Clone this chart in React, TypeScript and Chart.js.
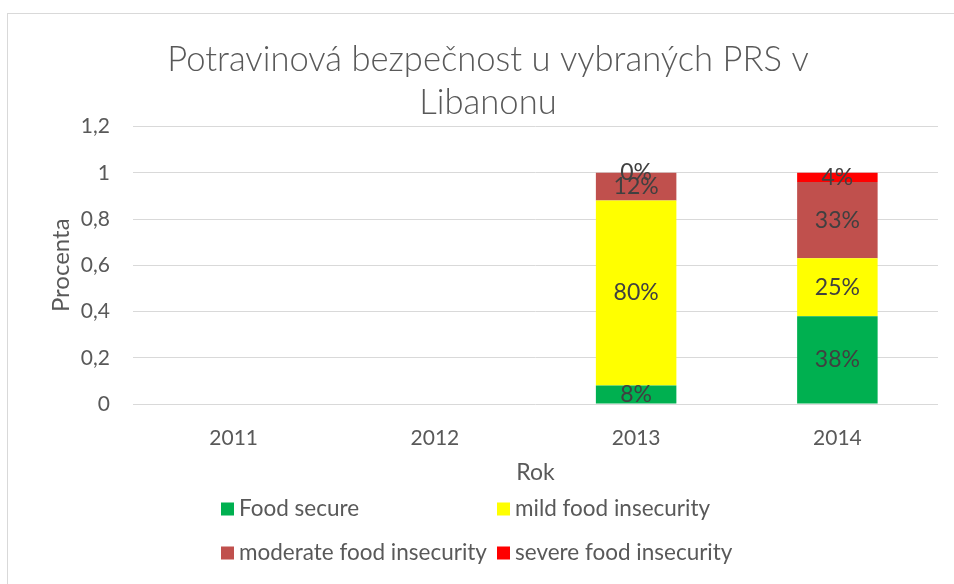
import React, { useEffect, useRef } from "react";
import { Chart, registerables } from "chart.js";

Chart.register(...registerables);

const FONT = "Lato, 'Open Sans', sans-serif";

const categories = ["2011", "2012", "2013", "2014"];
const foodSecure = [null, null, 0.08, 0.38];
const mildInsecurity = [null, null, 0.8, 0.25];
const moderateInsecurity = [null, null, 0.12, 0.33];
const severeInsecurity = [null, null, 0, 0.04];
const seriesNames = [
  "Food secure",
  "mild food insecurity",
  "moderate food insecurity",
  "severe food insecurity",
];
const seriesColors = ["#00B050", "#FFFF00", "#C0504D", "#FF0000"];
const titleLines = ["Potravinová bezpečnost u vybraných PRS v", "Libanonu"];
const yAxisTitle = "Procenta";
const xAxisTitle = "Rok";

const framePlugin = {
  id: "frame",
  beforeDraw(chart: any) {
    const ctx = chart.ctx;
    ctx.save();
    ctx.fillStyle = "#ffffff";
    ctx.fillRect(0, 0, chart.width, chart.height);
    ctx.strokeStyle = "#d9d9d9";
    ctx.lineWidth = 1;
    ctx.strokeRect(7.5, 13.5, 2000, 2000);
    ctx.restore();
  },
};

const dataLabelPlugin = {
  id: "dataLabels",
  afterDatasetsDraw(chart: any) {
    const ctx = chart.ctx;
    ctx.save();
    ctx.font = `23px ${FONT}`;
    ctx.fillStyle = "#404040";
    ctx.textAlign = "center";
    ctx.textBaseline = "middle";
    chart.data.datasets.forEach((ds: any, i: number) => {
      const meta = chart.getDatasetMeta(i);
      meta.data.forEach((bar: any, j: number) => {
        const v = ds.data[j];
        if (v === null || v === undefined) return;
        const { x, y, base } = bar.getProps(["x", "y", "base"], true);
        ctx.fillText(Math.round(v * 100) + "%", x, (y + base) / 2);
      });
    });
    ctx.restore();
  },
};

const legendPlugin = {
  id: "gridLegend",
  afterDraw(chart: any) {
    const ctx = chart.ctx;
    const cols = [221, 497];
    const rows = [509, 553];
    const box = 13;
    ctx.save();
    ctx.font = `22.5px ${FONT}`;
    ctx.textAlign = "left";
    ctx.textBaseline = "middle";
    chart.data.datasets.forEach((ds: any, i: number) => {
      const x = cols[i % 2];
      const y = rows[Math.floor(i / 2)];
      ctx.fillStyle = ds.backgroundColor;
      ctx.fillRect(x, y - box / 2, box, box);
      ctx.fillStyle = "#595959";
      ctx.fillText(ds.label, x + box + 5, y);
    });
    ctx.restore();
  },
};

export default function App() {
  const ref = useRef<HTMLCanvasElement | null>(null);

  useEffect(() => {
    if (!ref.current) return;
    const seriesData = [foodSecure, mildInsecurity, moderateInsecurity, severeInsecurity];
    const chart = new Chart(ref.current, {
      type: "bar",
      data: {
        labels: categories,
        datasets: seriesData.map((d, i) => ({
          label: seriesNames[i],
          data: d,
          backgroundColor: seriesColors[i],
          borderWidth: 0,
          barPercentage: 0.4,
          categoryPercentage: 1,
        })),
      },
      options: {
        animation: false,
        responsive: false,
        maintainAspectRatio: false,
        layout: { padding: { left: 38, right: 16, top: 0, bottom: 90 } },
        plugins: {
          legend: { display: false },
          tooltip: { enabled: false },
          title: {
            display: true,
            text: titleLines,
            color: "#595959",
            font: { family: FONT, size: 34.6, weight: "300", lineHeight: 1.25 },
            padding: { top: 38, bottom: 2 },
          },
        },
        scales: {
          x: {
            stacked: true,
            grid: { display: false },
            border: { display: false },
            ticks: { color: "#595959", font: { family: FONT, size: 21 }, padding: 14 },
            title: {
              display: true,
              text: xAxisTitle,
              color: "#595959",
              font: { family: FONT, size: 23 },
              padding: { top: 0, bottom: 8 },
            },
            afterFit(scale: any) {
              scale.height = 90;
            },
          },
          y: {
            stacked: true,
            min: 0,
            max: 1.2,
            grid: { color: "#d9d9d9", lineWidth: 1, drawTicks: false },
            border: { display: false },
            ticks: {
              stepSize: 0.2,
              color: "#595959",
              font: { family: FONT, size: 21 },
              padding: 23,
              callback: (v: any) => String(Math.round(Number(v) * 10) / 10).replace(".", ","),
            },
            title: {
              display: true,
              text: yAxisTitle,
              color: "#595959",
              font: { family: FONT, size: 24 },
              padding: { top: 8.5, bottom: 0 },
            },
            afterFit(scale: any) {
              scale.width = 95;
            },
          },
        },
      },
      plugins: [framePlugin, dataLabelPlugin, legendPlugin],
    });
    return () => chart.destroy();
  }, []);

  return (
    <div style={{ position: "fixed", left: 0, top: 0, width: 954, height: 584 }}>
      <canvas ref={ref} width={954} height={584} style={{ width: 954, height: 584 }} />
    </div>
  );
}
